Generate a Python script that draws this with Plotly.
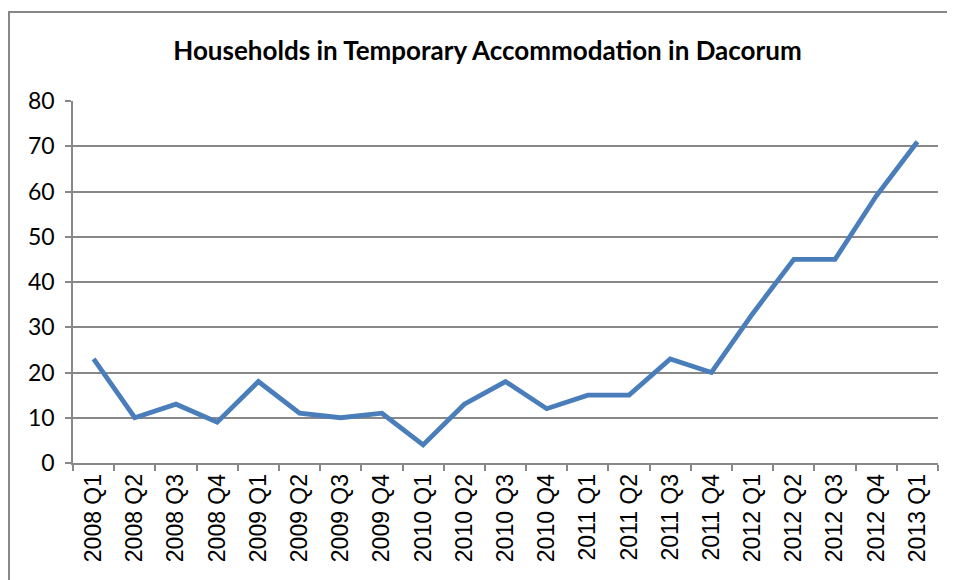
import plotly.graph_objects as go

quarters = ["2008 Q1", "2008 Q2", "2008 Q3", "2008 Q4", "2009 Q1", "2009 Q2", "2009 Q3",
            "2009 Q4", "2010 Q1", "2010 Q2", "2010 Q3", "2010 Q4", "2011 Q1", "2011 Q2",
            "2011 Q3", "2011 Q4", "2012 Q1", "2012 Q2", "2012 Q3", "2012 Q4", "2013 Q1"]
households = [23, 10, 13, 9, 18, 11, 10, 11, 4, 13, 18, 12, 15, 15, 23, 20, 33, 45, 45, 59, 71]
title_text = "Households in Temporary Accommodation in Dacorum"

W, H = 955, 580
OFF = 8  # page body margin
L, R, T, B = 73 - OFF, 25, 101 - OFF, 125
PW, PH = W - L - R, H - T - B
grid = "#888888"

fig = go.Figure()
fig.add_trace(go.Scatter(
    x=quarters, y=households, mode="lines",
    line=dict(color="#4A7EBB", width=4.8),
    hoverinfo="x+y", showlegend=False,
))

fig.update_layout(
    width=W, height=H,
    margin=dict(l=L, r=R, t=T, b=B, autoexpand=False),
    paper_bgcolor="white", plot_bgcolor="white",
    title=dict(text="<b>" + title_text + "</b>", x=(487.5 - OFF) / W, xanchor="center",
               y=1 - (51 - OFF) / H, yanchor="middle", xref="container", yref="container",
               font=dict(family="Lato", size=26, color="black")),
    xaxis=dict(
        type="category", range=[-0.5, len(quarters) - 0.5],
        showline=True, linecolor=grid, linewidth=1.5,
        ticks="outside", ticklen=6, tickcolor=grid, tickwidth=1.5,
        tickson="boundaries", tickangle=-90, showgrid=False,
        tickfont=dict(family="Liberation Sans", size=23, color="black"),
    ),
    yaxis=dict(
        range=[0, 80], dtick=10, tick0=0,
        showline=True, linecolor=grid, linewidth=1.5,
        ticks="outside", ticklen=6, tickcolor=grid, tickwidth=1.5,
        showgrid=True, gridcolor=grid, gridwidth=1.5, zeroline=False,
        ticklabelstandoff=6,
        tickfont=dict(family="Lato", size=23, color="black"),
    ),
    shapes=[dict(type="rect", xref="paper", yref="paper",
                 x0=(9 - OFF - L) / PW, x1=(W + 20 - L) / PW,
                 y0=-(H + 20 - (H - B)) / PH, y1=(H - B - (12 - OFF)) / PH,
                 line=dict(color=grid, width=2), layer="below")],
)

fig.write_html("out.html")
